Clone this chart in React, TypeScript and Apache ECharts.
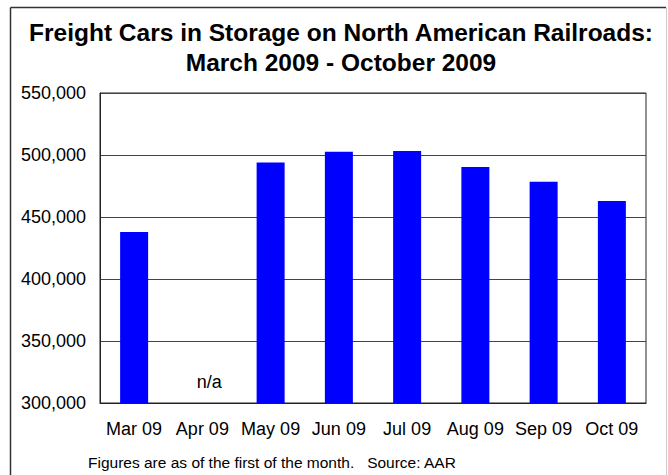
import React, { useEffect, useRef } from "react";
import * as echarts from "echarts";

const categories = ["Mar 09", "Apr 09", "May 09", "Jun 09", "Jul 09", "Aug 09", "Sep 09", "Oct 09"];
const storedCars: (number | null)[] = [438000, null, 494000, 502700, 503200, 490300, 478500, 463000];
const yTicks = { min: 300000, max: 550000, interval: 50000 };
const titleLines = ["Freight Cars in Storage on North American Railroads:", "March 2009 - October 2009"];
const footnote = "Figures are as of the first of the month.   Source: AAR";
const missingLabel = "n/a";

const FONT = "'Liberation Sans', Arial, Helvetica, sans-serif";

export default function App() {
  const ref = useRef<HTMLDivElement>(null);
  useEffect(() => {
    if (!ref.current) return;
    const chart = echarts.init(ref.current, null, { renderer: "svg" });
    chart.setOption({
      animation: false,
      backgroundColor: "#ffffff",
      textStyle: { fontFamily: FONT },
      grid: {
        left: 100,
        right: 22,
        top: 93,
        bottom: 72,
        show: true,
        borderColor: "#222",
        borderWidth: 1,
        containLabel: false,
      },
      xAxis: {
        type: "category",
        data: categories,
        axisLine: { show: true, lineStyle: { color: "#222", width: 1 } },
        axisTick: { show: false },
        axisLabel: { color: "#000", fontSize: 18, fontFamily: FONT, margin: 17, interval: 0 },
        splitLine: { show: false },
      },
      yAxis: {
        type: "value",
        min: yTicks.min,
        max: yTicks.max,
        interval: yTicks.interval,
        axisLine: { show: true, lineStyle: { color: "#222", width: 1 } },
        axisTick: { show: false },
        axisLabel: {
          color: "#000",
          fontSize: 18,
          fontFamily: FONT,
          margin: 14,
          formatter: (v: number) => v.toLocaleString("en-US"),
        },
        splitLine: { show: true, lineStyle: { color: "#444", width: 1 } },
      },
      series: [
        {
          type: "bar",
          data: storedCars,
          barWidth: 28,
          itemStyle: { color: "#0000ff" },
          markPoint: {
            symbol: "rect",
            symbolSize: 0,
            data: [
              {
                coord: [categories[1], yTicks.min],
                label: {
                  show: true,
                  formatter: missingLabel,
                  position: "inside",
                  offset: [7, -21],
                  color: "#000",
                  fontSize: 18,
                  fontFamily: FONT,
                },
              },
            ],
          },
        },
      ],
      graphic: [
        { type: "line", shape: { x1: 10.5, y1: 7.5, x2: 666, y2: 7.5 }, style: { stroke: "#333", lineWidth: 1.5 }, silent: true },
        { type: "line", shape: { x1: 10.5, y1: 7.5, x2: 10.5, y2: 480 }, style: { stroke: "#333", lineWidth: 1.5 }, silent: true },
        { type: "line", shape: { x1: 666.5, y1: 7.5, x2: 666.5, y2: 480 }, style: { stroke: "#ccc", lineWidth: 1 }, silent: true },
        {
          type: "text",
          x: 341,
          y: 32,
          style: { text: titleLines[0], fontSize: 24.5, fontWeight: "bold", fontFamily: FONT, fill: "#000", textAlign: "center", textVerticalAlign: "middle" },
        },
        {
          type: "text",
          x: 341,
          y: 62,
          style: { text: titleLines[1], fontSize: 24.5, fontWeight: "bold", fontFamily: FONT, fill: "#000", textAlign: "center", textVerticalAlign: "middle" },
        },
        {
          type: "text",
          x: 88,
          y: 462,
          style: { text: footnote, fontSize: 15.5, fontFamily: FONT, fill: "#000", textAlign: "left", textVerticalAlign: "middle" },
        },
      ],
    });
    return () => chart.dispose();
  }, []);
  return <div ref={ref} style={{ position: "fixed", left: 0, top: 0, width: 668, height: 475 }} />;
}
